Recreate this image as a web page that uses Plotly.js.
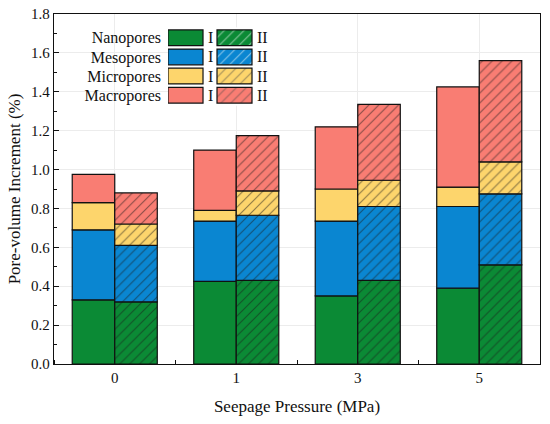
<!DOCTYPE html>
<html>
<head>
<meta charset="utf-8">
<script src="https://cdn.plot.ly/plotly-3.0.1.min.js"></script>
</head>
<body style="margin:0;padding:0;background:#fff">
<div id="chart" style="width:550px;height:424px"></div>
<script>
// ---- data ----
const pressures = ['0', '1', '3', '5'];
const poreTypes = ['Nanopores', 'Mesopores', 'Micropores', 'Macropores'];
const groups = ['I', 'II'];
// segment heights (pore-volume increment, %) for group I
const nanoI  = [0.330, 0.425, 0.350, 0.390];
const mesoI  = [0.360, 0.310, 0.385, 0.420];
const microI = [0.140, 0.055, 0.165, 0.100];
const macroI = [0.145, 0.310, 0.320, 0.515];
// group II
const nanoII  = [0.320, 0.430, 0.430, 0.510];
const mesoII  = [0.290, 0.335, 0.380, 0.365];
const microII = [0.110, 0.125, 0.135, 0.165];
const macroII = [0.160, 0.285, 0.390, 0.520];

const colors = ['#0b8a35', '#0a86d1', '#fdd56c', '#f97d73'];
const FONT = 'Liberation Serif';

const seriesI = [nanoI, mesoI, microI, macroI];
const seriesII = [nanoII, mesoII, microII, macroII];
const xIdx = pressures.map((p, i) => i);
const barW = 0.35;
const hatch = {shape: '/', size: 7, solidity: 0.16, fgcolor: '#1a1a1a', fillmode: 'overlay'};

const traces = [];
[seriesI, seriesII].forEach((series, g) => {
  const base = pressures.map(() => 0);
  series.forEach((vals, k) => {
    traces.push({
      type: 'bar',
      x: xIdx,
      y: vals,
      base: base.slice(),
      width: barW,
      offset: g === 0 ? -barW : 0,
      name: poreTypes[k] + ' ' + groups[g],
      marker: {
        color: colors[k],
        line: {color: '#111', width: 1.2},
        pattern: g === 1 ? hatch : {shape: ''}
      },
      showlegend: false,
      hoverinfo: 'skip'
    });
    vals.forEach((v, i) => { base[i] += v; });
  });
});

// ---- custom legend (swatch grid on its own small axes) ----
const swW = 35, swGap = 14;
const legendRows = poreTypes.slice();
[0, 1].forEach(g => {
  traces.push({
    type: 'bar',
    orientation: 'h',
    xaxis: 'x2', yaxis: 'y2',
    y: legendRows,
    x: legendRows.map(() => swW),
    base: legendRows.map(() => g * (swW + swGap)),
    width: 0.82,
    marker: {
      color: colors,
      line: {color: '#111', width: 1.2},
      pattern: g === 1 ? hatch : {shape: ''}
    },
    showlegend: false,
    hoverinfo: 'skip'
  });
});

const annotations = [];
legendRows.forEach(r => {
  annotations.push({xref: 'x2', yref: 'y2', x: swW + 7, y: r, text: groups[0], showarrow: false,
    font: {family: FONT, size: 16, color: '#111'}, xanchor: 'center'});
  annotations.push({xref: 'x2', yref: 'y2', x: 2 * swW + swGap + 10, y: r, text: groups[1], showarrow: false,
    font: {family: FONT, size: 16, color: '#111'}, xanchor: 'center'});
});

const layout = {
  width: 550, height: 424,
  margin: {l: 54, r: 10, t: 14, b: 60},
  paper_bgcolor: '#fff', plot_bgcolor: '#fff',
  barmode: 'overlay',
  font: {family: FONT, size: 15, color: '#111'},
  xaxis: {
    range: [-0.5, 3.5],
    tickvals: xIdx, ticktext: pressures,
    ticks: '', showgrid: true, gridcolor: '#ececec', gridwidth: 1,
    minor: {tick0: 0.5, dtick: 1, ticks: 'inside', ticklen: 4, tickcolor: '#111', showgrid: false},
    showline: true, linecolor: '#111', linewidth: 1.3, mirror: true,
    zeroline: false,
    tickfont: {family: FONT, size: 15, color: '#111'},
    title: {text: 'Seepage Pressure (MPa)', font: {family: FONT, size: 17, color: '#111'}, standoff: 14}
  },
  yaxis: {
    range: [0, 1.8], dtick: 0.2, tickformat: '.1f',
    ticks: 'inside', ticklen: 5, tickcolor: '#111',
    minor: {dtick: 0.1, ticks: 'inside', ticklen: 3, tickcolor: '#111', showgrid: false},
    showgrid: true, gridcolor: '#ececec', gridwidth: 1,
    showline: true, linecolor: '#111', linewidth: 1.3, mirror: true,
    zeroline: false,
    tickfont: {family: FONT, size: 15, color: '#111'},
    title: {text: 'Pore-volume Increment (%)', font: {family: FONT, size: 17, color: '#111'}, standoff: 6}
  },
  xaxis2: {
    domain: [0.2346, 0.4856], range: [0, 122], anchor: 'y2',
    visible: false, fixedrange: true
  },
  yaxis2: {
    domain: [0.738, 0.962], anchor: 'x2', type: 'category',
    categoryorder: 'array', categoryarray: legendRows.slice().reverse(),
    showgrid: false, zeroline: false, showline: false, ticks: '',
    ticklabelstandoff: 6,
    tickfont: {family: FONT, size: 16, color: '#111'},
    fixedrange: true
  },
  annotations: annotations
};

Plotly.newPlot('chart', traces, layout, {displayModeBar: false});
</script>
</body>
</html>
